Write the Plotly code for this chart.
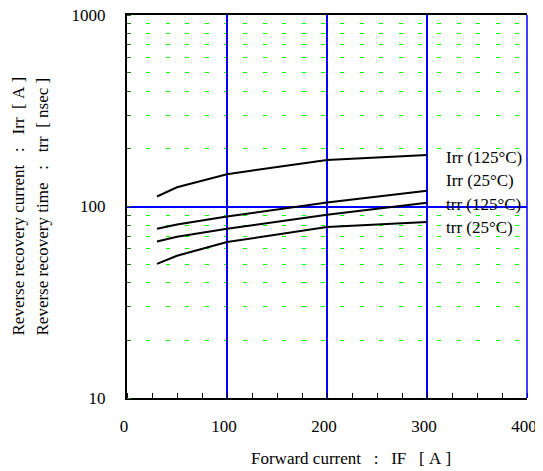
import math
import plotly.graph_objects as go

# ---- data ----
forward_current = [30, 50, 100, 200, 300]
irr_125 = [112.8, 126, 147.5, 175, 186]
irr_25 = [76.5, 80.5, 88.7, 105, 121]
trr_125 = [65.6, 69.5, 76.5, 90.5, 104.5]
trr_25 = [50.2, 55.3, 65.2, 78.1, 83]

series_names = ["Irr (125°C)", "Irr (25°C)", "trr (125°C)", "trr (25°C)"]
series_values = [irr_125, irr_25, trr_125, trr_25]
label_x = [320, 320, 320, 320]
label_y = [181, 136, 103, 77.4]

x_ticks = [0, 100, 200, 300, 400]
y_ticks = [10, 100, 1000]

NB = "\u00a0"
x_title = f"Forward current{NB*3}:{NB*3}IF{NB*3}[{NB}A{NB}]"
y_title_1 = f"Reverse recovery current{NB*3}:{NB*3}Irr{NB*2}[{NB}A{NB}]"
y_title_2 = f"Reverse recovery time{NB*3}:{NB*3}trr{NB*2}[{NB}nsec{NB}]"

FONT = "Liberation Serif"
FS = 17

fig = go.Figure()
for name, vals in zip(series_names, series_values):
    fig.add_trace(go.Scatter(x=forward_current, y=vals, mode="lines", name=name,
                             line=dict(color="black", width=2), showlegend=False))

# annotations on a log axis take log10 positions
for name, lx, ly in zip(series_names, label_x, label_y):
    fig.add_annotation(x=lx, y=math.log10(ly), xref="x", yref="y", text=name,
                       showarrow=False, xanchor="left", yanchor="middle", xshift=-3,
                       font=dict(family=FONT, size=FS, color="black"))

fig.add_annotation(x=0, y=0.5, xref="paper", yref="paper", text=y_title_1,
                   textangle=-90, showarrow=False, xanchor="center", yanchor="middle",
                   xshift=-109, font=dict(family=FONT, size=FS, color="black"))
fig.add_annotation(x=0, y=0.5, xref="paper", yref="paper", text=y_title_2,
                   textangle=-90, showarrow=False, xanchor="center", yanchor="middle",
                   xshift=-85, font=dict(family=FONT, size=FS, color="black"))
fig.add_annotation(x=0.5, y=0, xref="paper", yref="paper", text=x_title,
                   showarrow=False, xanchor="center", yanchor="middle",
                   xshift=24, yshift=-60, font=dict(family=FONT, size=FS, color="black"))

# right frame edge drawn in blue, as in the reference
fig.add_shape(type="line", xref="paper", yref="paper", x0=1, x1=1, y0=0, y1=1,
              line=dict(color="#0000ff", width=1.5), layer="above")

fig.update_layout(
    width=535, height=463,
    margin=dict(l=119, r=16, t=7, b=73, autoexpand=False),
    paper_bgcolor="white", plot_bgcolor="white",
    font=dict(family=FONT, size=FS, color="black"),
    xaxis=dict(
        range=[0, 400], tickvals=x_ticks, ticktext=[str(v) for v in x_ticks],
        showgrid=True, gridcolor="#0000ff", gridwidth=1.5,
        showline=True, linecolor="black", linewidth=2, mirror=True,
        ticks="", zeroline=False, ticklabelstandoff=12, ticklabelshift=-3,
        automargin=False, ticklabeloverflow="allow",
        minor=dict(dtick=25, ticks="inside", ticklen=5, tickcolor="black", showgrid=False),
    ),
    yaxis=dict(
        type="log", range=[1, 3], tickvals=y_ticks, ticktext=[str(v) for v in y_ticks],
        showgrid=True, gridcolor="#0000ff", gridwidth=1.5,
        showline=True, linecolor="black", linewidth=2, mirror=False,
        ticks="", zeroline=False, ticklabelstandoff=16, automargin=False,
        ticklabeloverflow="allow",
        minor=dict(dtick="D1", ticks="inside", ticklen=4, tickcolor="#336633",
                   showgrid=True, gridcolor="#00ff00", gridwidth=1, griddash="4px,15.4px"),
    ),
)

fig.write_html("out.html")
